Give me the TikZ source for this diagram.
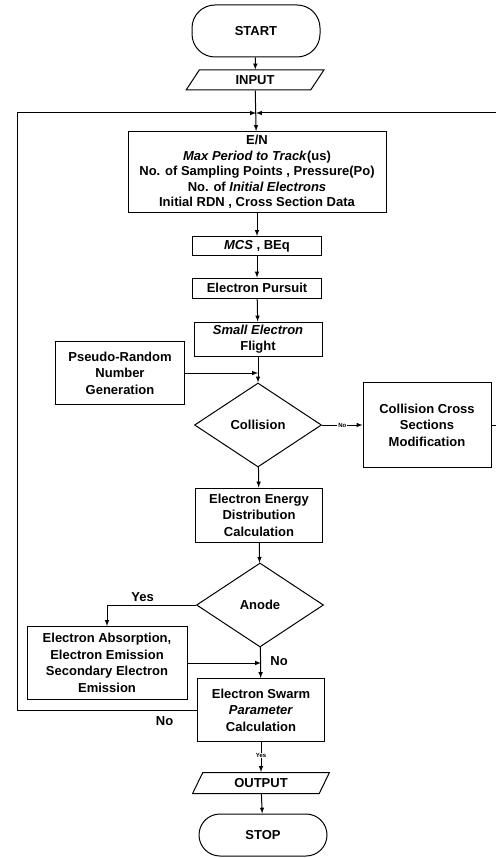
\documentclass[tikz,border=0pt]{standalone}
\usepackage{fontspec}
\setmainfont{Liberation Sans}
\usetikzlibrary{shapes.geometric}
\tikzset{
  >=latex,
  base/.style={draw, line width=1pt, align=center, inner sep=0pt,
    font=\bfseries\fontsize{13}{16.5}\selectfont},
  term/.style={base, rectangle, rounded corners=23pt},
  io/.style={base, trapezium, trapezium left angle=63, trapezium right angle=117, trapezium stretches},
  proc/.style={base, rectangle},
  dec/.style={base, diamond},
  lbl/.style={font=\bfseries\fontsize{13}{15}\selectfont},
  tinylbl/.style={font=\bfseries\fontsize{6}{7}\selectfont, fill=white, inner sep=0.8pt},
  flow/.style={->, line width=1pt}
}
\begin{document}
\begin{tikzpicture}[x=1pt,y=-1pt]
  \useasboundingbox (0,0) rectangle (495,858);
  % Start and input
  \node[term, minimum width=128pt, minimum height=52pt] (start) at (256,31) {START};
  \node[io, minimum width=138pt, minimum height=20pt] (input) at (255,80) {INPUT};
  % Points where the loops come back
  \coordinate (jn) at (256,113);
  \coordinate (lft) at (17,113);
  \coordinate (rgt) at (496,113);
  % Main column
  \node[proc, minimum width=258pt, minimum height=81pt,
        font=\bfseries\fontsize{13}{15.6}\selectfont] (en) at (257,172)
    {E/N\\ \textit{Max Period to Track}(us)\\ No. of Sampling Points , Pressure(Po)\\
     No. of \textit{Initial Electrons}\\ Initial RDN , Cross Section Data};
  \node[proc, minimum width=129pt, minimum height=19pt] (mcs) at (257,246) {\textit{MCS} , BEq};
  \node[proc, minimum width=129pt, minimum height=20pt] (pursuit) at (257,288) {Electron Pursuit};
  \node[proc, minimum width=128pt, minimum height=34pt] (flight) at (258,339)
    {\textit{Small Electron}\\Flight};
  \node[proc, minimum width=129pt, minimum height=63pt] (pseudo) at (120,373)
    {Pseudo-Random\\Number\\Generation};
  \coordinate (rnd) at (258,373);
  \node[dec, minimum width=127pt, minimum height=84pt] (collision) at (258,425) {Collision};
  \node[proc, minimum width=128pt, minimum height=85pt] (ccs) at (427,425)
    {Collision Cross\\Sections\\Modification};
  \node[proc, minimum width=127pt, minimum height=54pt] (energy) at (259,515)
    {Electron Energy\\Distribution\\Calculation};
  \node[dec, minimum width=127pt, minimum height=84pt] (anode) at (260,605) {Anode};
  \node[proc, minimum width=160pt, minimum height=73pt] (absorb) at (107,663)
    {Electron Absorption,\\Electron Emission\\Secondary Electron\\Emission};
  \coordinate (mrg) at (261,663);
  \node[proc, minimum width=127pt, minimum height=63pt] (swarm) at (261,710)
    {Electron Swarm\\\textit{Parameter}\\Calculation};
  \node[io, minimum width=137pt, minimum height=21pt] (output) at (261,783) {OUTPUT};
  \node[term, minimum width=128pt, minimum height=42pt, rounded corners=21pt] (stop) at (263,835) {STOP};
  % Arrows down the column
  \draw[flow] (start) -- (input);
  \draw[flow] (input) -- (en);
  \draw[flow] (en) -- (mcs);
  \draw[flow] (mcs) -- (pursuit);
  \draw[flow] (pursuit) -- (flight);
  \draw[flow] (flight) -- (collision);
  \draw[flow] (pseudo) -- (rnd);
  \draw[flow] (collision) -- node[tinylbl] {No} (ccs);
  \draw[flow] (collision) -- (energy);
  \draw[flow] (energy) -- (anode);
  \draw[flow] (anode.west) -| node[lbl, pos=0.3, above] {Yes} (absorb.north);
  \draw[flow] (absorb) -- (mrg);
  \draw[flow] (anode) -- node[lbl, pos=0.45, right=6pt] {No} (swarm);
  \draw[flow] (swarm) -- node[tinylbl, pos=0.45] {Yes} (output);
  \draw[flow] (output) -- (stop);
  % Loops back to the top
  \draw[flow] (swarm.west) -| node[lbl, pos=0.09, below=3pt] {No} (lft) -- (jn);
  \draw[flow] (ccs.east) -| (rgt) -- (jn);
\end{tikzpicture}
\end{document}
